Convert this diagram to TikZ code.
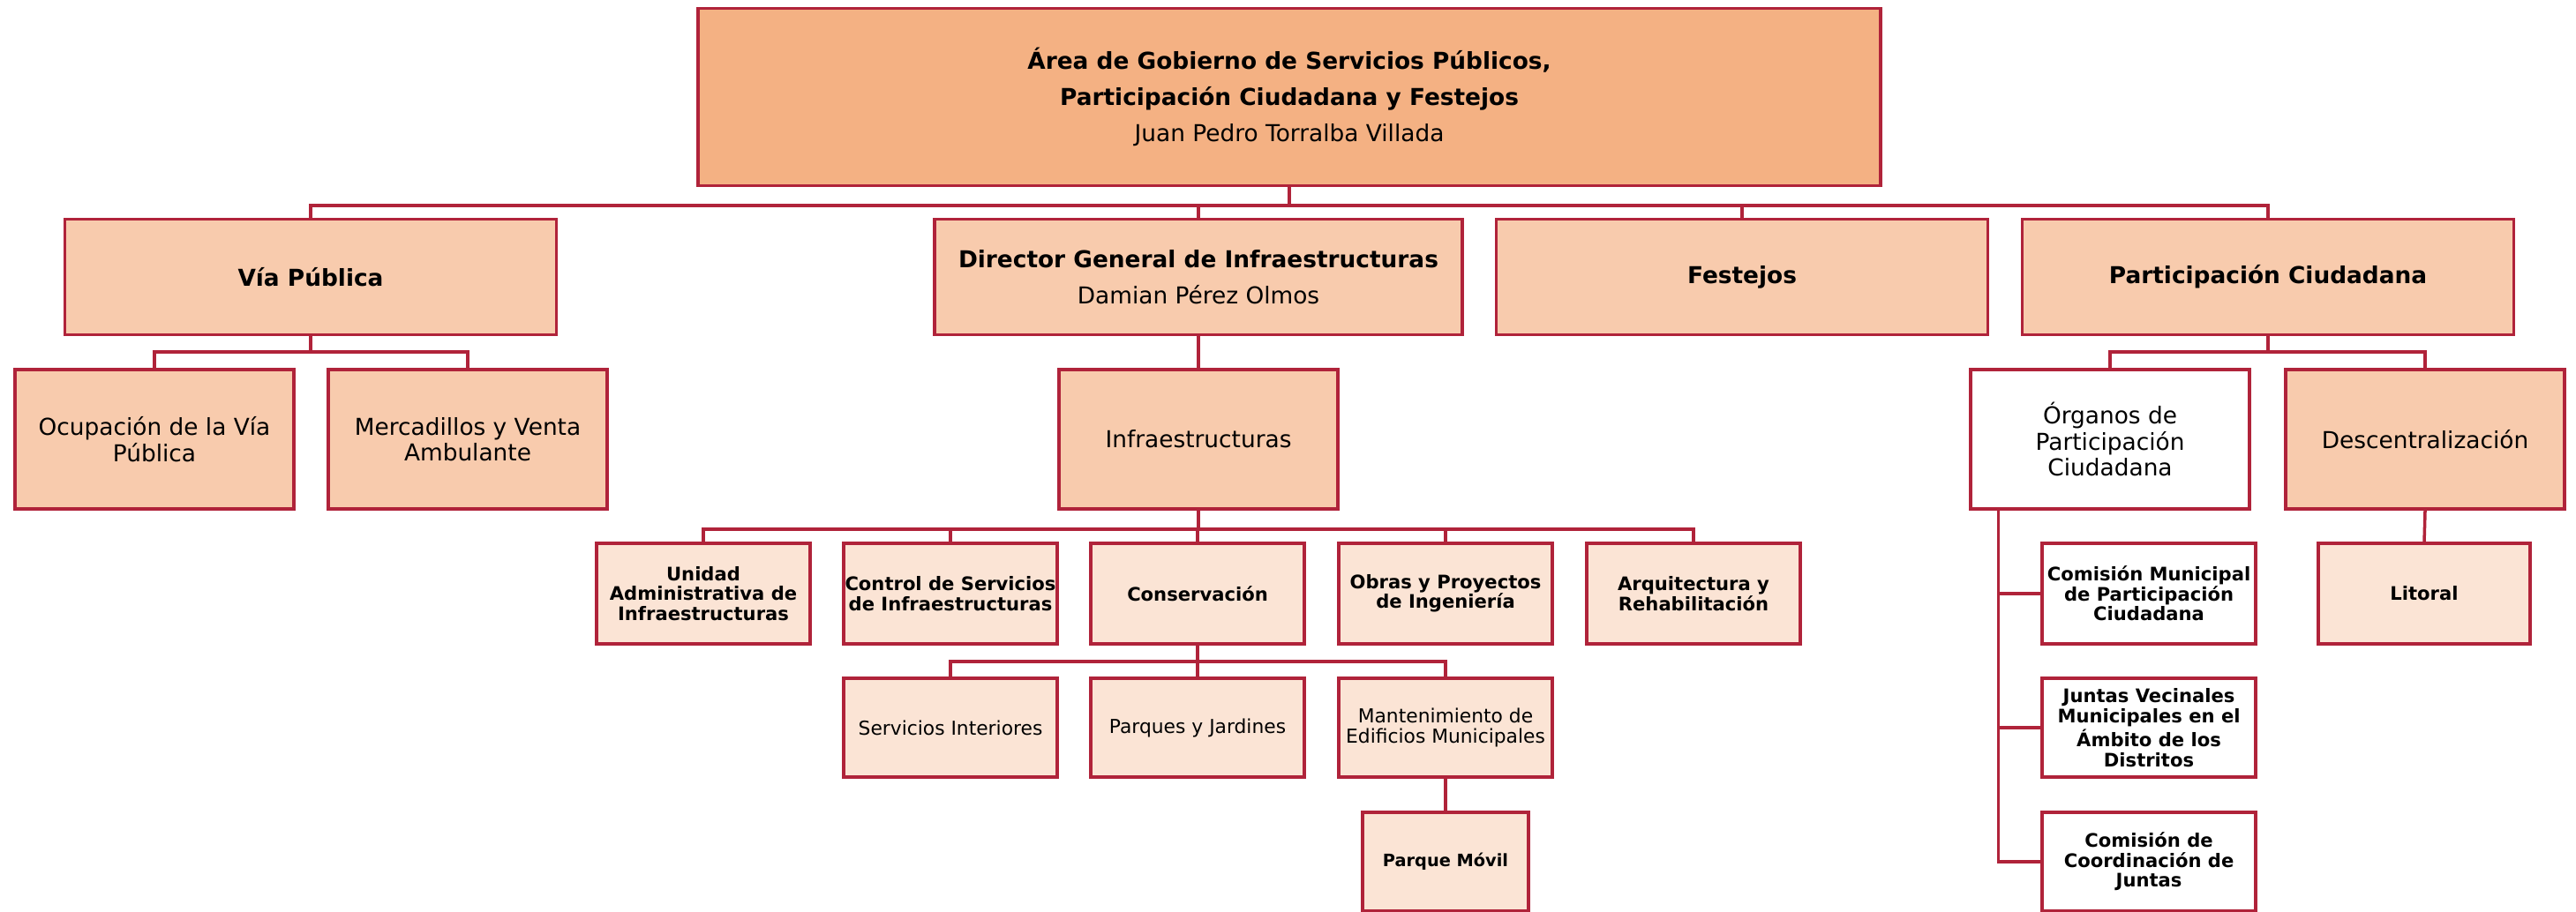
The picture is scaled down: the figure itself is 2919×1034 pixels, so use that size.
\documentclass[tikz,border=0pt]{standalone}
\usepackage{fontspec}
\setmainfont{DejaVu Sans}
\definecolor{borde}{HTML}{B0233A}
\definecolor{nivelA}{HTML}{F4B183}
\definecolor{nivelB}{HTML}{F8CBAD}
\definecolor{nivelC}{HTML}{FBE4D5}

\begin{document}
\begin{tikzpicture}[x=0.01cm, y=-0.01cm,
  caja/.style={draw=borde, line width=1pt, align=center, inner sep=0pt},
  grande/.style={caja, fill=nivelB, minimum width=557*0.01cm, minimum height=131*0.01cm, font={\fontsize{7.5}{11.7}\selectfont}},
  media/.style={caja, fill=nivelB, minimum width=316*0.01cm, minimum height=158*0.01cm, font={\fontsize{7.5}{8.4}\selectfont}},
  chica/.style={caja, fill=nivelC, minimum width=242*0.01cm, minimum height=114*0.01cm, font={\fontsize{6}{6.4}\selectfont\bfseries}},
  fina/.style={chica, font={\fontsize{6.2}{6.6}\selectfont}},
  linea/.style={draw=borde, line width=1pt}]
\useasboundingbox (0,0) rectangle (2919,1034);

\node[grande, fill=nivelA, minimum width=1340*0.01cm, minimum height=201*0.01cm] (top) at (1461,110)
  {\textbf{Área de Gobierno de Servicios Públicos,}\\\textbf{Participación Ciudadana y Festejos}\\Juan Pedro Torralba Villada};

\node[grande] (via) at (352,314) {\textbf{Vía Pública}};
\node[grande, minimum width=598*0.01cm] (dir) at (1358,314) {\textbf{Director General de Infraestructuras}\\Damian Pérez Olmos};
\node[grande] (fest) at (1974,314) {\textbf{Festejos}};
\node[grande] (part) at (2570,314) {\textbf{Participación Ciudadana}};

\node[media] (ocup) at (175,498) {Ocupación de la Vía\\Pública};
\node[media] (merc) at (530,498) {Mercadillos y Venta\\Ambulante};
\node[media] (infra) at (1358,498) {Infraestructuras};
\node[media, fill=white] (organos) at (2391,498) {Órganos de\\Participación\\Ciudadana};
\node[media] (descen) at (2748,498) {Descentralización};

\node[chica] (unidad) at (797,673) {Unidad\\Administrativa de\\Infraestructuras};
\node[chica] (control) at (1077,673) {Control de Servicios\\de Infraestructuras};
\node[chica] (conserv) at (1357,673) {Conservación};
\node[chica] (obras) at (1638,673) {Obras y Proyectos\\de Ingeniería};
\node[chica] (arq) at (1919,673) {Arquitectura y\\Rehabilitación};

\node[fina, minimum height=112*0.01cm] (serv) at (1077,825) {Servicios Interiores};
\node[fina, minimum height=112*0.01cm] (parques) at (1357,825) {Parques y Jardines};
\node[fina, minimum height=112*0.01cm] (mant) at (1638,825) {Mantenimiento de\\Edificios Municipales};
\node[chica, minimum width=188*0.01cm, minimum height=112*0.01cm, font={\fontsize{5.5}{6}\selectfont\bfseries}] (movil) at (1638,977) {Parque Móvil};

\node[chica, minimum width=240*0.01cm] (litoral) at (2747,673) {Litoral};
\node[chica, fill=white] (comMun) at (2435,673) {Comisión Municipal\\de Participación\\Ciudadana};
\node[chica, fill=white, minimum height=112*0.01cm] (juntas) at (2435,825) {Juntas Vecinales\\Municipales en el\\Ámbito de los\\Distritos};
\node[chica, fill=white, minimum height=112*0.01cm] (comCoord) at (2435,977) {Comisión de\\Coordinación de\\Juntas};

\foreach \n in {via,dir,fest,part}
  \draw[linea] (top.south) -- ++(0,21) -| (\n.north);
\foreach \n in {ocup,merc}
  \draw[linea] (via.south) -- ++(0,18) -| (\n.north);
\foreach \n in {organos,descen}
  \draw[linea] (part.south) -- ++(0,18) -| (\n.north);
\draw[linea] (dir.south) -- (infra.north);
\foreach \n in {unidad,control,conserv,obras,arq}
  \draw[linea] (infra.south) -- ++(0,21) -| (\n.north);
\foreach \n in {serv,parques,mant}
  \draw[linea] (conserv.south) -- ++(0,18) -| (\n.north);
\draw[linea] (mant.south) -- (movil.north);
\draw[linea] (descen.south) -- (litoral.north);
\foreach \n in {comMun,juntas,comCoord}
  \draw[linea] ([xshift=0.33cm]organos.south west) |- (\n.west);
\end{tikzpicture}
\end{document}
